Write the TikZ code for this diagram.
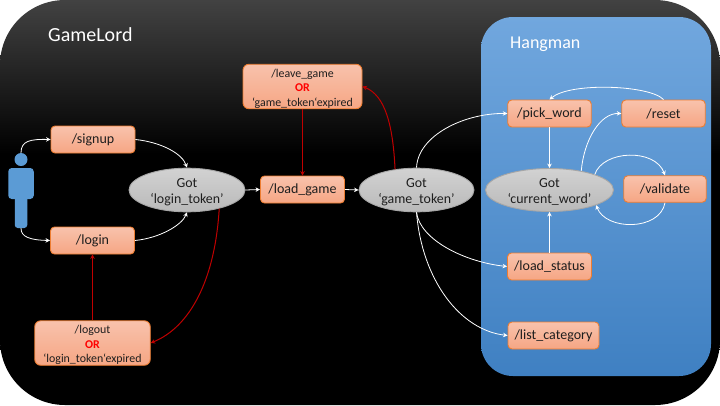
\documentclass[tikz,border=0pt]{standalone}
\usepackage{fontspec}
\setmainfont{Carlito}
\usetikzlibrary{shapes.geometric,arrows.meta}
\definecolor{bgtop}{HTML}{424242}
\definecolor{boxedge}{HTML}{ED7D31}
\definecolor{boxtop}{HTML}{F8C2AC}
\definecolor{boxbot}{HTML}{F6A684}
\definecolor{elltop}{HTML}{D2D2D2}
\definecolor{ellbot}{HTML}{B9B9B9}
\definecolor{elledge}{HTML}{A6A6A6}
\definecolor{paneltop}{HTML}{71A7DE}
\definecolor{panelbot}{HTML}{3F80C2}
\definecolor{person}{HTML}{5B9BD5}
\definecolor{ink}{HTML}{1E1E1E}
\definecolor{darkred}{HTML}{C00000}
\pgfdeclareverticalshading{bgshade}{100bp}{color(0bp)=(black); color(56bp)=(black); color(75bp)=(bgtop); color(100bp)=(bgtop)}
\tikzset{
  apibox/.style={draw=boxedge,line width=0.9pt,rounded corners=4pt,top color=boxtop,bottom color=boxbot,
    text=ink,font=\fontsize{14}{15}\selectfont,align=center,inner sep=0pt,minimum height=27pt},
  tallbox/.style={apibox,font=\fontsize{11.9}{14.5}\selectfont,minimum height=44.5pt,rounded corners=6pt},
  gotell/.style={ellipse,draw=elledge,line width=0.9pt,top color=elltop,bottom color=ellbot,
    text=ink,font=\fontsize{13.9}{16}\selectfont,align=center,inner sep=0pt,minimum height=41.5pt},
  flow/.style={draw=white,line width=0.8pt,-{Stealth[length=4.5pt,width=4.5pt]}},
  redflow/.style={draw=darkred,line width=1pt,-{Stealth[length=4.5pt,width=4.5pt]}},
  personpart/.style={fill=person,draw=none,inner sep=0pt},
  title/.style={text=white,anchor=west,inner sep=0pt},
}
\newcommand{\orword}{{\color{red}\bfseries OR}}
\newcommand{\topgap}{\rule{0pt}{12.5pt}}
\begin{document}
\begin{tikzpicture}[x=1pt,y=-1pt]
\useasboundingbox (0,0) rectangle (720,405);
\fill[white] (0,0) rectangle (720,405);
\path[rounded corners=65pt,shading=bgshade] (0,0) rectangle (720,405);
\path[rounded corners=32pt,top color=paneltop,bottom color=panelbot] (481,17) rectangle (711,376);

\node[title,font=\fontsize{20}{22}\selectfont] (gamelord) at (48,35) {GameLord};
\node[title,font=\fontsize{18}{20}\selectfont] at (510,44) (hangman) {Hangman};

% person
\node[personpart,circle,minimum size=13pt] (head) at (21,159.5) {};
\node[personpart,rounded corners=3pt,minimum width=12.5pt,minimum height=36pt] (legs) at (21,210) {};
\node[personpart,rounded corners=3.5pt,minimum width=25.5pt,minimum height=31pt] (torso) at (21,183.5) {};

% boxes
\node[apibox,minimum width=84pt] (signup) at (93,139.5) {/signup};
\node[apibox,minimum width=84pt] (login) at (92.5,240.5) {/login};
\node[tallbox,minimum width=115.5pt] (logout) at (92.5,343) {\topgap/logout\\[0pt]\orword\\[0pt]‘login\_token‘expired};
\node[tallbox,minimum width=119pt] (leave) at (302.5,86.5) {\topgap/leave\_game\\[0pt]\orword\\[0pt]‘game\_token‘expired};
\node[apibox,minimum width=84pt] (loadgame) at (302.5,189.5) {/load\_game};
\node[apibox,minimum width=83.5pt] (pick) at (549.5,113.5) {/pick\_word};
\node[apibox,minimum width=83.5pt] (reset) at (663.5,113.5) {/reset};
\node[apibox,minimum width=82.5pt,minimum height=26.5pt] (validate) at (665,189) {/validate};
\node[apibox,minimum width=84pt] (status) at (549.5,266.5) {/load\_status};
\node[apibox,minimum width=91pt] (category) at (553.5,335.5) {/list\_category};

% ellipses
\node[gotell,minimum width=116pt] (gotlogin) at (187,190) {\topgap Got\\‘login\_token’};
\node[gotell,minimum width=115pt] (gotgame) at (416.5,190) {\topgap Got\\‘game\_token’};
\node[gotell,minimum width=128pt] (gotword) at (549.5,190) {\topgap Got\\‘current\_word’};

% white connectors
\draw[flow] (head.north) .. controls (21,141) and (30,139) .. (signup.west);
\draw[flow] (legs.south) .. controls (21,237) and (30,240) .. (login.west);
\draw[flow] (signup.east) .. controls (160,142) and (182,153) .. (gotlogin.north);
\draw[flow] (login.east) .. controls (160,238) and (182,225) .. (gotlogin.south);
\draw[flow] (gotlogin.east) -- (loadgame.west);
\draw[flow] (loadgame.east) -- (gotgame.west);
\draw[flow] (gotgame.north) .. controls (418,135) and (465,113) .. (pick.west);
\draw[flow] (gotgame.south) .. controls (420,240) and (465,262) .. (status.west);
\draw[flow] (gotgame.south) .. controls (422,280) and (460,330) .. (category.west);
\draw[flow] (pick.south) -- (gotword.north);
\draw[flow] (status.north) -- (gotword.south);
\draw[flow] (reset.north) .. controls (650,85) and (570,82) .. (pick.north);
\draw[flow] (gotword.31) .. controls (584,140) and (600,113) .. (reset.west);
\draw[flow] (gotword.19) .. controls (603,150) and (655,148) .. (validate.north);
\draw[flow] (validate.south) .. controls (660,231) and (606,231) .. (gotword.-18);

% red connectors
\draw[redflow] (logout.north) -- (login.south);
\draw[redflow] (gotlogin.-30) .. controls (215,280) and (190,327) .. (logout.east);
\draw[redflow] (leave.south) -- (loadgame.north);
\draw[redflow] (gotgame.136) .. controls (393,125) and (385,95) .. (leave.east);
\end{tikzpicture}
\end{document}
